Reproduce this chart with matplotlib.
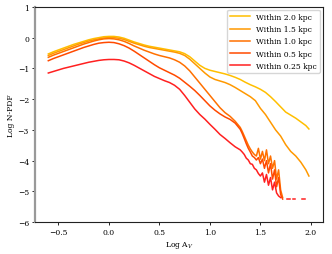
import numpy as np
import matplotlib.pyplot as plt

plt.rcParams['font.family'] = 'DejaVu Serif'
plt.rcParams['mathtext.fontset'] = 'dejavuserif'

# log A_V grid for the smooth part of every curve
x_main = [-0.6, -0.55, -0.5, -0.45, -0.4, -0.35, -0.3, -0.25, -0.2, -0.15,
          -0.1, -0.05, 0.0, 0.05, 0.1, 0.15, 0.2, 0.25, 0.3, 0.35,
          0.4, 0.45, 0.5, 0.55, 0.6, 0.65, 0.7, 0.75, 0.8, 0.85,
          0.9, 0.95, 1.0, 1.05, 1.1, 1.15, 1.2, 1.25, 1.3]

# Within 2.0 kpc and 1.5 kpc reach log A_V = 2
x_long = x_main + [1.35, 1.4, 1.45, 1.5, 1.55, 1.6, 1.65, 1.7, 1.75, 1.8,
                   1.85, 1.9, 1.95, 1.98]

y_20 = [-0.53, -0.46, -0.40, -0.34, -0.28, -0.22, -0.17, -0.12, -0.07, -0.03,
        0.0, 0.03, 0.04, 0.04, 0.02, -0.02, -0.08, -0.14, -0.19, -0.24,
        -0.28, -0.31, -0.34, -0.37, -0.40, -0.43, -0.46, -0.52, -0.62, -0.76,
        -0.90, -1.00, -1.06, -1.10, -1.14, -1.18, -1.23, -1.29, -1.36,
        -1.45, -1.53, -1.60, -1.68, -1.78, -1.92, -2.08, -2.25, -2.42, -2.52,
        -2.62, -2.74, -2.86, -2.97]

y_15 = [-0.58, -0.51, -0.45, -0.39, -0.33, -0.27, -0.21, -0.16, -0.11, -0.07,
        -0.04, -0.01, 0.0, 0.0, -0.02, -0.06, -0.12, -0.18, -0.23, -0.28,
        -0.32, -0.35, -0.38, -0.41, -0.44, -0.47, -0.51, -0.58, -0.70, -0.85,
        -1.00, -1.15, -1.28, -1.36, -1.41, -1.46, -1.53, -1.62, -1.72,
        -1.82, -1.92, -2.05, -2.30, -2.50, -2.75, -3.00, -3.20, -3.48, -3.70,
        -3.85, -4.05, -4.30, -4.50]

# inner regions: noisy tail sampled finer
x_tail = [1.32, 1.34, 1.36, 1.38, 1.40, 1.42, 1.44, 1.46, 1.48, 1.50,
          1.52, 1.54, 1.56, 1.58, 1.60, 1.62, 1.64, 1.66, 1.68, 1.70, 1.72]

y_10 = [-0.64, -0.57, -0.51, -0.45, -0.39, -0.33, -0.27, -0.21, -0.16, -0.11,
        -0.07, -0.04, -0.03, -0.04, -0.07, -0.12, -0.19, -0.27, -0.34, -0.41,
        -0.47, -0.53, -0.58, -0.62, -0.66, -0.72, -0.80, -0.92, -1.08, -1.28,
        -1.48, -1.68, -1.88, -2.08, -2.28, -2.44, -2.56, -2.72, -2.92,
        -3.05, -3.20, -3.35, -3.50, -3.62, -3.72, -3.80, -3.85, -3.60, -3.95,
        -3.70, -4.00, -3.65, -4.10, -3.85, -4.25, -4.00, -4.60, -4.30, -4.95, -5.20]

y_05 = [-0.75, -0.68, -0.62, -0.56, -0.50, -0.44, -0.38, -0.32, -0.27, -0.22,
        -0.18, -0.16, -0.15, -0.16, -0.20, -0.26, -0.34, -0.44, -0.55, -0.66,
        -0.77, -0.88, -0.98, -1.06, -1.14, -1.22, -1.32, -1.45, -1.58, -1.72,
        -1.88, -2.05, -2.22, -2.36, -2.48, -2.58, -2.66, -2.78, -2.98,
        -3.12, -3.28, -3.45, -3.60, -3.72, -3.85, -3.90, -3.98, -3.90, -4.10,
        -3.95, -4.25, -4.00, -4.40, -4.10, -4.60, -4.30, -4.85, -4.55, -5.10, -5.25]

y_025 = [-1.15, -1.10, -1.05, -1.00, -0.96, -0.92, -0.88, -0.84, -0.80, -0.77,
         -0.74, -0.72, -0.71, -0.71, -0.72, -0.76, -0.82, -0.90, -0.99, -1.08,
         -1.17, -1.26, -1.33, -1.40, -1.46, -1.55, -1.68, -1.88, -2.10, -2.32,
         -2.50, -2.65, -2.82, -2.98, -3.15, -3.28, -3.42, -3.55, -3.65,
         -3.72, -3.80, -3.92, -3.98, -4.10, -4.12, -4.25, -4.30, -4.42, -4.50,
         -4.40, -4.70, -4.45, -4.80, -4.55, -4.95, -4.70, -5.05, -5.15, -5.20, np.nan]

# isolated bins at the very end of the inner profiles
x_dash = [1.76, 1.79, np.nan, 1.82, 1.84, np.nan, 1.91, 1.94]
y_dash = [-5.25, -5.25, np.nan, -5.25, -5.25, np.nan, -5.25, -5.25]

labels = ['Within 2.0 kpc', 'Within 1.5 kpc', 'Within 1.0 kpc',
          'Within 0.5 kpc', 'Within 0.25 kpc']
colors = ['#ffbf00', '#ff9900', '#ff7000', '#ff4a00', '#ff2020']

fig = plt.figure(figsize=(3.32, 2.55), dpi=100)
ax = fig.add_axes([0.106, 0.125, 0.867, 0.844])

x_short = x_main + x_tail
ax.plot(x_long, y_20, color=colors[0], lw=1.1, label=labels[0])
ax.plot(x_long, y_15, color=colors[1], lw=1.1, label=labels[1])
ax.plot(x_short, y_10, color=colors[2], lw=1.1, label=labels[2])
ax.plot(x_short, y_05, color=colors[3], lw=1.1, label=labels[3])
ax.plot(x_short, y_025, color=colors[4], lw=1.1, label=labels[4])
ax.plot(x_dash, y_dash, color=colors[4], lw=1.1)

ax.set_xlim(-0.73, 2.12)
ax.set_ylim(-6, 1)
ax.set_xticks([-0.5, 0.0, 0.5, 1.0, 1.5, 2.0])
ax.set_yticks(range(-6, 2))
ax.tick_params(labelsize=5.5, length=2.5, width=0.6, pad=2)
ax.set_xlabel('Log A$_V$', fontsize=5.5, labelpad=2)
ax.set_ylabel('Log N-PDF', fontsize=5.5, labelpad=2)

for s in ['top', 'right', 'bottom']:
    ax.spines[s].set_linewidth(0.8)
    ax.spines[s].set_color('#222222')
ax.spines['left'].set_color('#999999')
ax.spines['left'].set_linewidth(1.6)

ax.legend(loc='upper right', fontsize=5.5, handlelength=2.6, labelspacing=0.55,
          borderaxespad=0.4, fancybox=True, framealpha=0.8)

fig.savefig('out.png', dpi=100)
